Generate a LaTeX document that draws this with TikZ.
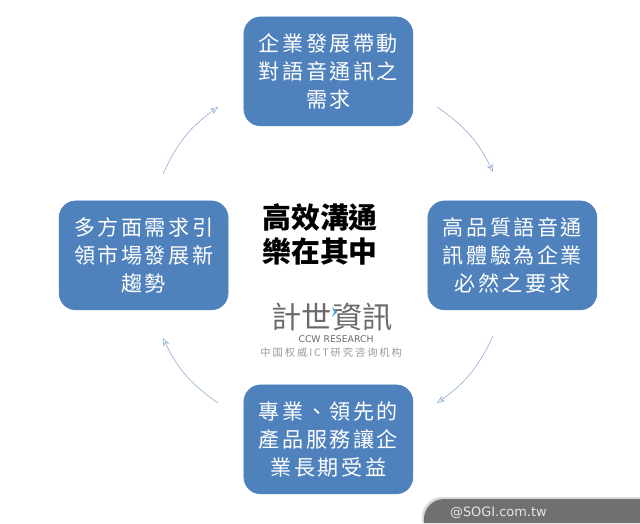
\documentclass[tikz,border=0pt]{standalone}
\usepackage{fontspec}
\usepackage{xcolor}
\usetikzlibrary{arrows.meta}
\setmainfont{Noto Sans CJK TC}
\newfontfamily\latinfont{DejaVu Sans}
\definecolor{boxblue}{HTML}{4F81BD}
\definecolor{arrowblue}{HTML}{8CA8D0}
\definecolor{tabgrey}{HTML}{707070}
\definecolor{logogrey}{HTML}{6A6A6A}
\definecolor{logoblue}{HTML}{3AA0D8}
\tikzset{
  stagebox/.style={fill=boxblue,draw=boxblue,rounded corners=0.42cm,minimum width=4.225cm,minimum height=2.725cm,align=center,text=white,font=\fontsize{15}{19.8}\selectfont\addfontfeature{LetterSpace=12}},
  cyclearrow/.style={arrowblue,thin,-{Stealth[length=2mm,width=1.6mm,open]}}
}

\begin{document}
\begin{tikzpicture}
    \useasboundingbox (0,0) rectangle (16,13.075);

    \node[stagebox] (demand) at (8.21,11.29) {企業發展帶動\\對語音通訊之\\需求};
    \node[stagebox] (quality) at (12.81,6.69) {高品質語音通\\訊體驗為企業\\必然之要求};
    \node[stagebox] (service) at (8.21,2.09) {專業、領先的\\產品服務讓企\\業長期受益};
    \node[stagebox] (trend) at (3.59,6.69) {多方面需求引\\領市場發展新\\趨勢};

    \coordinate (a1) at (10.925,10.4);
    \coordinate (a2) at (12.325,8.775);
    \coordinate (b1) at (12.325,4.675);
    \coordinate (b2) at (10.925,3.0);
    \coordinate (c1) at (5.45,3.0);
    \coordinate (c2) at (4.075,4.625);
    \coordinate (d1) at (4.075,8.725);
    \coordinate (d2) at (5.45,10.4);

    \draw[cyclearrow] (a1) to[bend left=15] (a2);
    \draw[cyclearrow] (b1) to[bend left=15] (b2);
    \draw[cyclearrow] (c1) to[bend left=15] (c2);
    \draw[cyclearrow] (d1) to[bend left=15] (d2);

    \node[align=center,font=\fontsize{20.5}{24}\selectfont\bfseries] (title) at (8.00,7.21) {高效溝通\\樂在其中};

    % logo
    \node[text=logogrey,font=\fontsize{21.5}{24}\selectfont] (logo) at (8.30,5.14) {計世資訊};
    \fill[logoblue] (8.30,5.40) -- (8.43,5.28) -- (8.30,5.15) -- (8.36,5.28) -- cycle;
    \node[text=logogrey,font=\latinfont\fontsize{6.6}{8}\selectfont] (logoname) at (8.40,4.60) {CCW RESEARCH};
    \node[text=black!40,font=\fontsize{7.3}{9}\selectfont\addfontfeature{LetterSpace=19}] (logosub) at (8.28,4.25) {中国权威ICT研究咨询机构};

    % tab
    \fill[black!15] (10.55,0) [rounded corners=0.5cm] -- (10.55,0.65) [sharp corners] -- (16,0.65) -- (16,0) -- cycle;
    \fill[tabgrey] (10.6,0) [rounded corners=0.5cm] -- (10.6,0.6) [sharp corners] -- (16,0.6) -- (16,0) -- cycle;
    \node[text=white!90!black,font=\latinfont\fontsize{9.2}{11}\selectfont] (tabtext) at (12.46,0.26) {@SOGI.com.tw};
  \end{tikzpicture}
\end{document}
